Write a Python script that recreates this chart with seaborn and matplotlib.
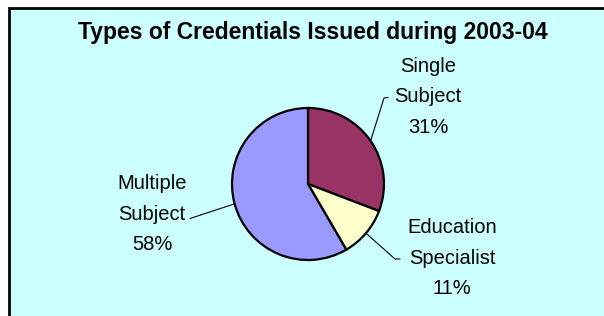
import numpy as np
import matplotlib
matplotlib.use("Agg")
import matplotlib.pyplot as plt
import seaborn as sns
from matplotlib.patches import Rectangle

# ---- data ----
categories = ["Single\nSubject", "Education\nSpecialist", "Multiple\nSubject"]
shares = [30.8, 10.8, 58.4]
pct_labels = ["31%", "11%", "58%"]
colors = ["#993366", "#FFFFCC", "#9999FF"]
title = "Types of Credentials Issued during 2003-04"

sns.set_theme(style="white")
plt.rcParams["font.family"] = ["Liberation Sans", "DejaVu Sans"]
palette = sns.color_palette(colors)

W, H = 604, 316
fig = plt.figure(figsize=(W / 100, H / 100), dpi=100, facecolor="white")
ax = fig.add_axes([0, 0, 1, 1])

# chart area background with frame (left/top visible)
ax.add_patch(Rectangle((9, 8), 620, 330, facecolor="#CCFFFF",
                       edgecolor="black", linewidth=2, zorder=0,
                       clip_on=True))

# pie (y axis inverted -> counterclock=True draws clockwise on screen)
cx, cy, r = 308, 184, 76
wedges, _ = ax.pie(shares, colors=palette, startangle=-90, counterclock=True,
                   center=(cx, cy), radius=r,
                   wedgeprops=dict(edgecolor="black", linewidth=1.6),
                   frame=True)
ax.set_xlim(0, W)
ax.set_ylim(H, 0)
ax.axis("off")

ax.text(313, 33, title, ha="center", va="center", fontsize=16.5,
        fontweight="bold", color="black")

label_pos = [(428, 97), (452, 258), (152, 214)]
leader_end = [[(384, 98), (388, 97.5)],
              [(395, 259), (400, 259)],
              [(190, 218.5)]]

for w, cat, pct, (tx, ty), ends in zip(wedges, categories, pct_labels,
                                        label_pos, leader_end):
    mid = np.deg2rad((w.theta1 + w.theta2) / 2)
    ex, ey = cx + r * np.cos(mid), cy + r * np.sin(mid)
    xs = [ex] + [p[0] for p in ends]
    ys = [ey] + [p[1] for p in ends]
    ax.plot(xs, ys, color="black", linewidth=0.8, zorder=1)
    ax.text(tx, ty, cat + "\n" + pct, ha="center", va="center",
            fontsize=14.5, color="black", linespacing=1.75,
            multialignment="center")

fig.savefig("out.png", dpi=100, facecolor="white")
